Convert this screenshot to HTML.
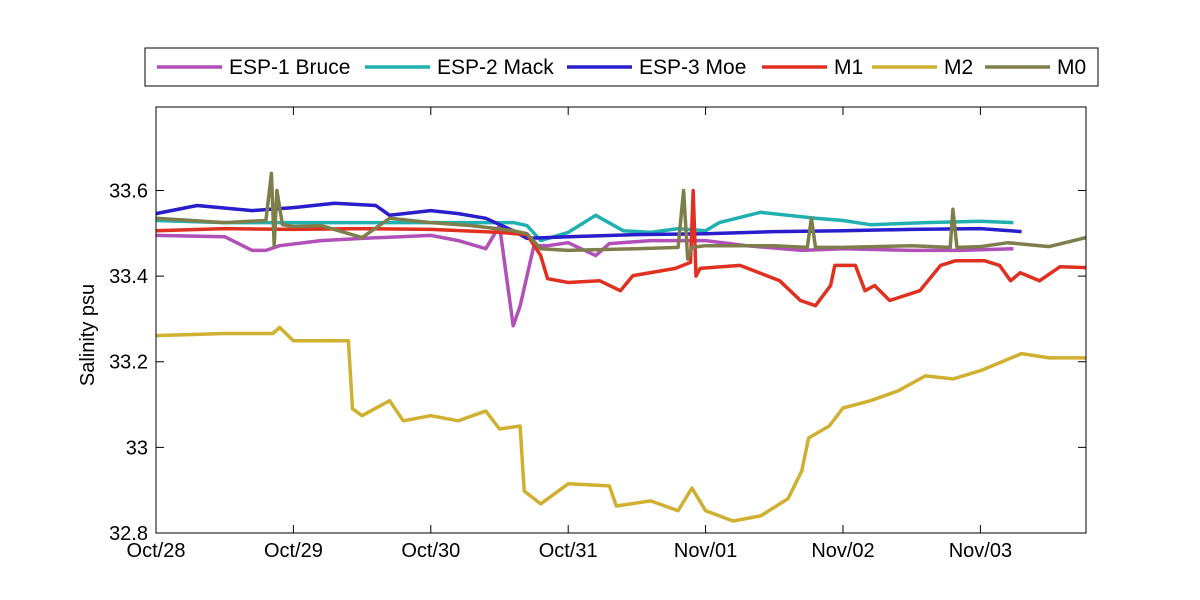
<!DOCTYPE html>
<html><head><meta charset="utf-8"><style>
body{margin:0;background:#fff;}
svg{display:block;font-family:"Liberation Sans",Arial,sans-serif;}
</style></head><body>
<svg id="chart" width="1200" height="600">
<rect x="0" y="0" width="1200" height="600" fill="#fff"/>
<g id="series"></g>
<rect x="156" y="107" width="930" height="426" fill="none" stroke="#000" stroke-width="1"/>
<g id="axes"></g>
<text x="94" y="335" font-size="20" text-anchor="middle" transform="rotate(-90 94 335)">Salinity psu</text>
<g id="legend">
<rect x="145" y="48" width="953" height="38" fill="#fff" stroke="#000" stroke-width="1"/>
</g>
</svg>
<script>
const xTickLabels=["Oct/28","Oct/29","Oct/30","Oct/31","Nov/01","Nov/02","Nov/03"];
const yTicks=[32.8,33,33.2,33.4,33.6];
const yTickLabels=["32.8","33","33.2","33.4","33.6"];
const seriesNames=["ESP-1 Bruce","ESP-2 Mack","ESP-3 Moe","M1","M2","M0"];
const seriesColors=["#b050b8","#20b0b0","#2a1ecc","#e03020","#d0b030","#7e7e4c"];
// days since Oct/28 and salinity (psu)
const bruceX=[0,0.5,0.7,0.8,0.9,1.2,1.5,2.0,2.2,2.4,2.5,2.55,2.6,2.65,2.75,2.85,3.0,3.2,3.3,3.6,4.0,4.3,4.7,5.0,5.5,5.85,6.24];
const bruceY=[33.495,33.492,33.46,33.46,33.471,33.483,33.488,33.495,33.483,33.464,33.518,33.40,33.284,33.33,33.471,33.471,33.478,33.448,33.476,33.483,33.483,33.471,33.460,33.464,33.460,33.460,33.464];
const mackX=[0,0.5,1.0,1.5,2.0,2.6,2.7,2.8,3.0,3.2,3.4,3.6,3.8,4.0,4.1,4.4,4.8,5.0,5.2,5.6,6.0,6.24];
const mackY=[33.530,33.525,33.525,33.525,33.525,33.525,33.518,33.483,33.502,33.542,33.506,33.502,33.511,33.506,33.525,33.549,33.535,33.530,33.520,33.525,33.528,33.525];
const moeX=[0,0.3,0.7,1.0,1.3,1.6,1.7,2.0,2.2,2.4,2.6,2.7,3.0,3.5,4.0,4.5,5.0,5.5,6.0,6.3];
const moeY=[33.546,33.565,33.553,33.560,33.570,33.565,33.542,33.553,33.546,33.535,33.506,33.488,33.492,33.497,33.499,33.504,33.506,33.509,33.511,33.504];
const m1X=[0,0.5,1.0,1.5,2.0,2.5,2.7,2.8,2.85,3.0,3.23,3.38,3.47,3.78,3.89,3.91,3.93,3.96,4.25,4.54,4.69,4.80,4.91,4.94,5.09,5.16,5.23,5.34,5.56,5.71,5.82,6.03,6.14,6.22,6.29,6.43,6.58,6.77];
const m1Y=[33.506,33.511,33.509,33.511,33.509,33.502,33.497,33.448,33.394,33.385,33.389,33.366,33.401,33.418,33.432,33.60,33.40,33.418,33.425,33.389,33.343,33.331,33.378,33.425,33.425,33.366,33.378,33.343,33.366,33.425,33.436,33.436,33.425,33.389,33.408,33.389,33.422,33.420];
const m2X=[0,0.5,0.85,0.9,1.0,1.4,1.43,1.5,1.7,1.8,2.0,2.2,2.4,2.5,2.65,2.68,2.8,3.0,3.3,3.35,3.6,3.8,3.9,4.0,4.2,4.4,4.6,4.7,4.75,4.9,5.0,5.2,5.4,5.6,5.8,6.0,6.3,6.5,6.77];
const m2Y=[33.261,33.266,33.266,33.280,33.249,33.249,33.090,33.074,33.109,33.062,33.074,33.062,33.085,33.043,33.050,32.898,32.868,32.915,32.910,32.863,32.875,32.852,32.905,32.852,32.828,32.840,32.880,32.945,33.022,33.050,33.092,33.109,33.132,33.167,33.160,33.179,33.219,33.209,33.209];
const m0X=[0,0.5,0.8,0.84,0.86,0.88,0.92,1.0,1.2,1.5,1.7,2.0,2.3,2.6,2.7,2.8,3.0,3.5,3.8,3.84,3.87,3.9,4.0,4.5,4.74,4.77,4.8,5.0,5.5,5.78,5.8,5.83,6.0,6.2,6.5,6.77];
const m0Y=[33.535,33.525,33.530,33.640,33.471,33.600,33.520,33.516,33.518,33.490,33.535,33.525,33.518,33.506,33.499,33.464,33.460,33.464,33.467,33.600,33.440,33.467,33.471,33.471,33.467,33.535,33.467,33.467,33.471,33.467,33.556,33.467,33.469,33.478,33.469,33.490];
const allX=[bruceX,mackX,moeX,m1X,m2X,m0X];
const allY=[bruceY,mackY,moeY,m1Y,m2Y,m0Y];

const L=156,R=1086,T=107,B=533,dayPx=137.4,yMin=32.8,yMax=33.795;
const sx=d=>L+d*dayPx;
const sy=v=>B-(v-yMin)/(yMax-yMin)*(B-T);
const NS="http://www.w3.org/2000/svg";
function mk(tag,attrs,parent){const e=document.createElementNS(NS,tag);for(const k in attrs)e.setAttribute(k,attrs[k]);parent.appendChild(e);return e;}

const sg=document.getElementById('series');
const order=[4,0,1,2,3,5];
order.forEach(i=>{
  const pts=allX[i].map((d,j)=>sx(d).toFixed(1)+","+sy(allY[i][j]).toFixed(1)).join(" ");
  const p=mk('polyline',{points:pts,fill:'none',stroke:seriesColors[i],'stroke-width':3.5,'stroke-linejoin':'round'},sg);
  
  
});

const ag=document.getElementById('axes');
xTickLabels.forEach((lab,i)=>{
  const x=sx(i);
  mk('line',{x1:x,y1:B,x2:x,y2:B-8,stroke:'#000'},ag);
  mk('line',{x1:x,y1:T,x2:x,y2:T+8,stroke:'#000'},ag);
  const t=mk('text',{x:x,y:B+24,'font-size':20,'text-anchor':'middle'},ag);
  t.textContent=lab;
  
  
});
yTicks.forEach((v,i)=>{
  const y=sy(v);
  mk('line',{x1:L,y1:y,x2:L+8,y2:y,stroke:'#000'},ag);
  mk('line',{x1:R,y1:y,x2:R-8,y2:y,stroke:'#000'},ag);
  const t=mk('text',{x:L-8,y:y+7,'font-size':20,'text-anchor':'end'},ag);
  t.textContent=yTickLabels[i];
  
  
});

const lg=document.getElementById('legend');
const lx=[157,365,567,762,872,985];
seriesNames.forEach((n,i)=>{
  const x=lx[i];
  const g=mk('g',{},lg);
  
  
  mk('line',{x1:x,y1:67,x2:x+65,y2:67,stroke:seriesColors[i],'stroke-width':3.5},g);
  const t=mk('text',{x:x+72,y:74,'font-size':21},g);
  t.textContent=n;
});
</script>
</body></html>
